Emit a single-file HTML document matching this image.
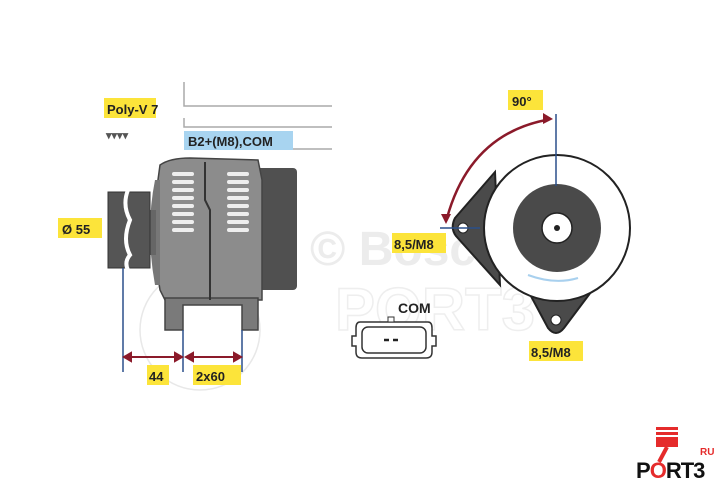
<!DOCTYPE html>
<html><head><style>
body{margin:0;background:#fff}
svg{display:block}
text{font-family:"Liberation Sans",Arial,sans-serif;font-weight:bold}
</style></head><body>
<svg width="720" height="490" viewBox="0 0 720 490" xmlns="http://www.w3.org/2000/svg">
<!-- faint watermark -->
<text x="310" y="265" font-size="48" fill="#ececec">© Bosch</text>
<text x="335" y="330" font-size="60" fill="none" stroke="#eeeeee" stroke-width="1.5" font-weight="normal">PORT3</text>
<circle cx="200" cy="330" r="60" fill="none" stroke="#e8e8e8" stroke-width="1.5"/>
<!-- header lines -->
<g stroke="#aaa" stroke-width="1.5" fill="none">
<path d="M184 82V106H332"/>
<path d="M184 118V127H332"/>
<path d="M293 149H332"/>
</g>
<rect x="104" y="98" width="52" height="20" fill="#fce43a"/>
<text x="107" y="114" font-size="13" fill="#222">Poly-V 7</text>
<text x="106" y="139" font-size="11" fill="#555">▾▾▾▾</text>
<rect x="184" y="131" width="109" height="19" fill="#a8d4f0"/>
<text x="188" y="146" font-size="13" fill="#222">B2+(M8),COM</text>
<!-- alternator side view -->
<rect x="250" y="168" width="47" height="122" rx="4" fill="#505050"/>
<path d="M160 165 Q170 158 190 158 L258 160 L262 180 L262 300 L165 300 L160 290 Q150 230 160 165Z" fill="#8c8c8c" stroke="#444" stroke-width="1.5"/>
<path d="M155 180 Q145 230 155 285 L160 285 L160 180Z" fill="#777"/>
<path d="M165 298H258V330H242V305H183V330H165Z" fill="#7a7a7a" stroke="#444" stroke-width="1.5"/>
<path d="M205 162 L205 200 L210 210 L210 300" stroke="#333" stroke-width="2" fill="none"/>
<g fill="#eee">
<rect x="172" y="172" width="22" height="4" rx="2"/><rect x="172" y="180" width="22" height="4" rx="2"/><rect x="172" y="188" width="22" height="4" rx="2"/><rect x="172" y="196" width="22" height="4" rx="2"/><rect x="172" y="204" width="22" height="4" rx="2"/><rect x="172" y="212" width="22" height="4" rx="2"/><rect x="172" y="220" width="22" height="4" rx="2"/><rect x="172" y="228" width="22" height="4" rx="2"/>
<rect x="227" y="172" width="22" height="4" rx="2"/><rect x="227" y="180" width="22" height="4" rx="2"/><rect x="227" y="188" width="22" height="4" rx="2"/><rect x="227" y="196" width="22" height="4" rx="2"/><rect x="227" y="204" width="22" height="4" rx="2"/><rect x="227" y="212" width="22" height="4" rx="2"/><rect x="227" y="220" width="22" height="4" rx="2"/><rect x="227" y="228" width="22" height="4" rx="2"/>
</g>
<rect x="150" y="210" width="6" height="45" fill="#666"/>
<path d="M108 192 L150 192 L150 268 L108 268Z" fill="#555" stroke="#333"/>
<path d="M128 190 Q122 205 130 220 Q122 240 130 255 Q124 262 128 270" stroke="#fff" stroke-width="4" fill="none"/>
<rect x="58" y="218" width="44" height="20" fill="#fce43a"/>
<text x="62" y="234" font-size="13" fill="#222">Ø 55</text>
<!-- dims -->
<g stroke="#2a4f8a" stroke-width="1.5">
<line x1="123" y1="268" x2="123" y2="372"/>
<line x1="183" y1="330" x2="183" y2="372"/>
<line x1="242" y1="330" x2="242" y2="372"/>
</g>
<g stroke="#8b1a2a" stroke-width="2" fill="#8b1a2a">
<line x1="127" y1="357" x2="179" y2="357"/>
<line x1="187" y1="357" x2="238" y2="357"/>
<path d="M124 357l7-4v8zM182 357l-7-4v8zM186 357l7-4v8zM241 357l-7-4v8z"/>
</g>
<rect x="147" y="365" width="22" height="20" fill="#fce43a"/>
<text x="149" y="381" font-size="13" fill="#222">44</text>
<rect x="193" y="365" width="48" height="20" fill="#fce43a"/>
<text x="196" y="381" font-size="13" fill="#222">2x60</text>
<!-- right view -->
<path d="M495 172 L455 218 Q450 228 456 236 L500 285 Z" fill="#4a4a4a" stroke="#222" stroke-width="2"/>
<path d="M525 285 L548 328 Q556 338 564 328 L600 280 Z" fill="#4a4a4a" stroke="#222" stroke-width="2"/>
<circle cx="557" cy="228" r="73" fill="#fff" stroke="#222" stroke-width="2"/>
<circle cx="557" cy="228" r="44" fill="#4a4a4a"/>
<circle cx="557" cy="228" r="15" fill="#fff" stroke="#222" stroke-width="1.5"/>
<circle cx="557" cy="228" r="3" fill="#222"/>
<circle cx="463" cy="228" r="5" fill="#fff" stroke="#222"/>
<circle cx="556" cy="320" r="5" fill="#fff" stroke="#222"/>
<path d="M528 275 Q555 285 578 278" stroke="#a8d0ee" stroke-width="2" fill="none"/>
<g stroke="#2a4f8a" stroke-width="1.5">
<line x1="556" y1="114" x2="556" y2="186"/>
<line x1="440" y1="228" x2="480" y2="228"/>
</g>
<path d="M546 120 Q470 135 447 218" stroke="#8b1a2a" stroke-width="2.5" fill="none"/>
<path d="M553 119l-10-6v11zM446 224l-5-10h10z" fill="#8b1a2a"/>
<rect x="508" y="90" width="35" height="20" fill="#fce43a"/>
<text x="512" y="106" font-size="13" fill="#222">90°</text>
<rect x="392" y="233" width="54" height="20" fill="#fce43a"/>
<text x="394" y="249" font-size="13" fill="#222">8,5/M8</text>
<rect x="529" y="341" width="54" height="20" fill="#fce43a"/>
<text x="531" y="357" font-size="13" fill="#222">8,5/M8</text>
<!-- connector -->
<text x="398" y="313" font-size="14" fill="#222" font-weight="normal">COM</text>
<path d="M360 322 H428 Q432 322 432 328 V336 H436 V346 H432 V352 Q432 358 426 358 H362 Q356 358 356 352 V346 H352 V336 H356 V328 Q356 322 360 322Z" fill="#fff" stroke="#333" stroke-width="1.5"/>
<rect x="362" y="327" width="64" height="26" rx="6" fill="none" stroke="#333" stroke-width="1.5"/>
<rect x="388" y="317" width="6" height="5" fill="#fff" stroke="#333"/>
<path d="M384 340h5M393 340h5" stroke="#222" stroke-width="2.5"/>
<!-- logo -->
<rect x="656" y="427" width="22" height="3" fill="#e52b2b"/>
<rect x="656" y="432" width="22" height="3" fill="#e52b2b"/>
<rect x="656" y="437" width="22" height="10" fill="#e52b2b"/>
<line x1="667" y1="447" x2="659" y2="462" stroke="#e52b2b" stroke-width="4"/>
<text x="700" y="455" font-size="10" fill="#e52b2b">RU</text>
<text x="636" y="478" font-size="22" fill="#111" letter-spacing="-1">P<tspan fill="#e52b2b">O</tspan>RT3</text>
</svg>
</body></html>
